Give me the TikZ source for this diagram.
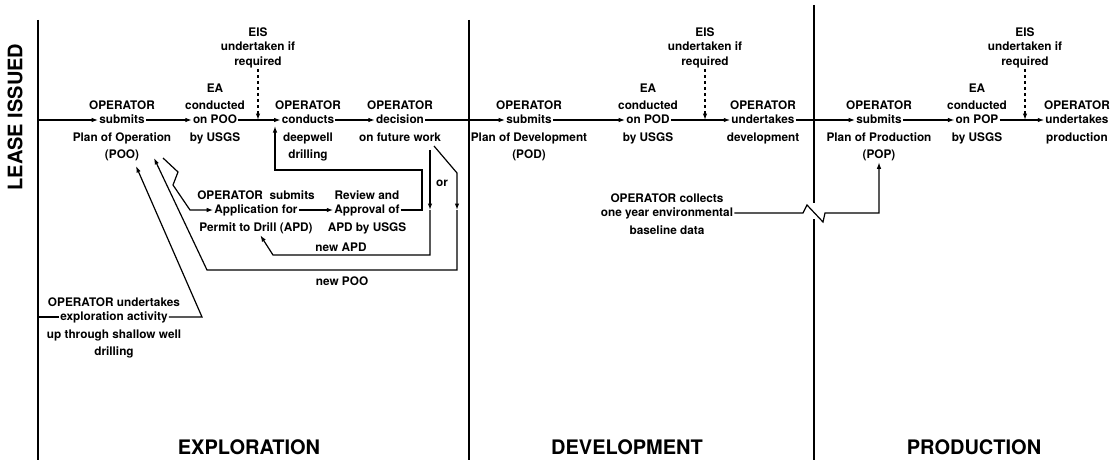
\documentclass[tikz,border=0pt]{standalone}
\usepackage{fontspec}
\setmainfont{TeX Gyre Heros}
\usetikzlibrary{arrows,arrows.meta,positioning}

\tikzset{
  txt/.style={font=\fontsize{11.8}{17}\selectfont\bfseries, align=center, inner sep=1pt},
  mid/.style={txt, text height=8.5pt, text depth=2.5pt},
  eis/.style={txt, font=\fontsize{11.8}{14.5}\selectfont\bfseries, anchor=south},
  big/.style={font=\fontsize{20}{22}\selectfont\bfseries, inner sep=0pt},
  link/.style={line width=1.2pt, -{Latex[length=6.5pt,width=4.5pt]}},
  plain/.style={line width=1.2pt},
  wall/.style={line width=1.8pt},
}

\begin{document}
\begin{tikzpicture}[x=1pt,y=-1pt]
  \useasboundingbox (0,0) rectangle (1117,460);

  % phase walls
  \draw[wall] (38,20)--(38,460);
  \draw[wall] (469,20)--(469,460);
  \draw[wall] (814,5)--(814,203);
  \draw[wall] (814,219)--(814,460);

  \node[big, rotate=90] (lease) at (15,117) {LEASE ISSUED};
  \node[big] (explo) at (249,447) {EXPLORATION};
  \node[big] (devel) at (627,447) {DEVELOPMENT};
  \node[big] (produ) at (974,447) {PRODUCTION};

  % main row
  \node[mid] (poo) at (122,120) {submits};
  \node[txt, above=2.3pt of poo] (poo1) {OPERATOR};
  \node[txt, below=5pt of poo] (poo3) {Plan of Operation\\(POO)};

  \node[mid] (eapoo) at (215,120) {on POO};
  \node[txt, above=2.3pt of eapoo] (eapoo1) {EA\\conducted};
  \node[txt, below=5pt of eapoo] (eapoo3) {by USGS};

  \node[mid] (drill) at (308,120) {conducts};
  \node[txt, above=2.3pt of drill] (drill1) {OPERATOR};
  \node[txt, below=5pt of drill] (drill3) {deepwell\\drilling};

  \node[mid] (decide) at (400,120) {decision};
  \node[txt, above=2.3pt of decide] (decide1) {OPERATOR};
  \node[txt, below=5pt of decide] (decide3) {on future work};

  \node[mid] (pod) at (529,120) {submits};
  \node[txt, above=2.3pt of pod] (pod1) {OPERATOR};
  \node[txt, below=5pt of pod] (pod3) {Plan of Development\\(POD)};

  \node[mid] (eapod) at (648,120) {on POD};
  \node[txt, above=2.3pt of eapod] (eapod1) {EA\\conducted};
  \node[txt, below=5pt of eapod] (eapod3) {by USGS};

  \node[mid] (dev) at (763,120) {undertakes};
  \node[txt, above=2.3pt of dev] (dev1) {OPERATOR};
  \node[txt, below=5pt of dev] (dev3) {development};

  \node[mid] (pop) at (879,120) {submits};
  \node[txt, above=2.3pt of pop] (pop1) {OPERATOR};
  \node[txt, below=5pt of pop] (pop3) {Plan of Production\\(POP)};

  \node[mid] (eapop) at (977,120) {on POP};
  \node[txt, above=2.3pt of eapop] (eapop1) {EA\\conducted};
  \node[txt, below=5pt of eapop] (eapop3) {by USGS};

  \node[mid] (prod) at (1077,120) {undertakes};
  \node[txt, above=2.3pt of prod] (prod1) {OPERATOR};
  \node[txt, below=5pt of prod] (prod3) {production};

  \node[eis] (eis1) at (258,69) {EIS\\undertaken if\\required};
  \node[eis] (eis2) at (705,69) {EIS\\undertaken if\\required};
  \node[eis] (eis3) at (1025,69) {EIS\\undertaken if\\required};

  % lower blocks
  \node[mid] (apd) at (256,210) {Application for};
  \node[txt, above=2.3pt of apd] (apd1) {OPERATOR\ \ submits};
  \node[txt, below=5pt of apd] (apd3) {Permit to Drill (APD)};

  \node[mid] (rev) at (367,210) {Approval of};
  \node[txt, above=2.3pt of rev] (rev1) {Review and};
  \node[txt, below=5pt of rev] (rev3) {APD by USGS};

  \node[mid] (expl) at (114,317) {exploration activity};
  \node[txt, above=2.3pt of expl] (expl1) {OPERATOR undertakes};
  \node[txt, below=5pt of expl] (expl3) {up through shallow well\\drilling};

  \node[mid] (base) at (667,213) {one year environmental};
  \node[txt, above=2.3pt of base] (base1) {OPERATOR collects};
  \node[txt, below=5pt of base] (base3) {baseline data};

  \node[txt] (or) at (442,183) {or};
  \node[txt] (newapd) at (341,247) {new APD};
  \node[txt] (newpoo) at (342,281) {new POO};

  \coordinate (l1) at (38,120);
  \coordinate (l2) at (38,317);

  % main flow
  \draw[link] (l1) -- (poo);
  \draw[link] (poo) -- (eapoo);
  \draw[link] (eapoo) -- (drill);
  \draw[link] (drill) -- (decide);
  \draw[link] (decide) -- (pod);
  \draw[link] (pod) -- (eapod);
  \draw[link] (eapod) -- (dev);
  \draw[link] (dev) -- (pop);
  \draw[link] (pop) -- (eapop);
  \draw[link] (eapop) -- (prod);

  \draw[link, dashed] (eis1) -- (eis1 |- eapoo);
  \draw[link, dashed] (eis2) -- (eis2 |- eapod);
  \draw[link, dashed] (eis3) -- (eis3 |- eapop);

  % drilling permit loop
  \coordinate (z1) at (163,158);
  \coordinate (z2) at (178,172);
  \coordinate (z3) at (173,185);
  \coordinate (z4) at (190,210);
  \draw[link] (z1) -- (z2) -- (z3) -- (z4) -- (apd);
  \draw[link] (apd) -- (rev);

  \coordinate (r1) at (422,170);
  \coordinate (r2) at (275,126);
  \draw[link] (rev) -| (r1) -| (r2);

  % decision outcomes
  \coordinate (d1) at (430,150);
  \coordinate (d2) at (430,210);
  \coordinate (d3) at (430,255);
  \coordinate (d4) at (273,255);
  \draw[link] (d1) -- (d2);
  \draw[link] (d2) -- (d3) -- (d4) -- (apd3);

  \coordinate (e1) at (434,146);
  \coordinate (e2) at (457,173);
  \coordinate (e3) at (457,210);
  \coordinate (e4) at (457,270);
  \coordinate (e5) at (207,270);
  \coordinate (pooin2) at (154,158);
  \draw[link] (e1) -- (e2) -- (e3);
  \draw[link] (e3) -- (e4) -- (e5) -- (pooin2);

  % shallow exploration
  \coordinate (x1) at (202,317);
  \coordinate (pooin1) at (136,166);
  \draw[plain] (l2) -- (expl);
  \draw[link] (expl) -- (x1) -- (pooin1);

  % baseline data
  \coordinate (b1) at (803,213);
  \coordinate (b2) at (807,205);
  \coordinate (b3) at (823,222);
  \coordinate (b4) at (825,213);
  \draw[link] (base) -- (b1) -- (b2) -- (b3) -- (b4) -| (pop3);
\end{tikzpicture}
\end{document}
